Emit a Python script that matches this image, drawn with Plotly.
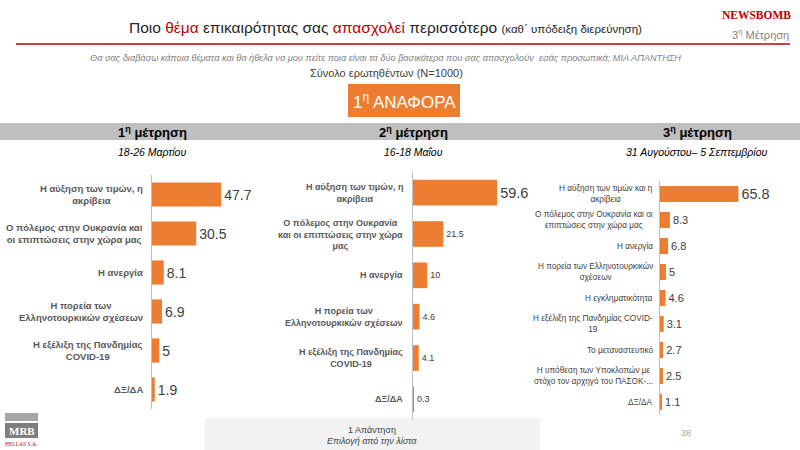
import plotly.graph_objects as go

W, H = 800, 450

# ---------------- data ----------------
cats1 = ["Η αύξηση των τιμών, η<br>ακρίβεια",
         "Ο πόλεμος στην Ουκρανία και<br>οι επιπτώσεις στην χώρα μας",
         "Η ανεργία",
         "Η πορεία των<br>Ελληνοτουρκικών σχέσεων",
         "Η εξέλιξη της Πανδημίας<br>COVID-19",
         "ΔΞ/ΔΑ"]
vals1 = [47.7, 30.5, 8.1, 6.9, 5, 1.9]

cats2 = ["Η αύξηση των τιμών, η<br>ακρίβεια",
         "Ο πόλεμος στην Ουκρανία<br>και οι επιπτώσεις στην χώρα<br>μας",
         "Η ανεργία",
         "Η πορεία των<br>Ελληνοτουρκικών σχέσεων",
         "Η εξέλιξη της Πανδημίας<br>COVID-19",
         "ΔΞ/ΔΑ"]
vals2 = [59.6, 21.5, 10, 4.6, 4.1, 0.3]

cats3 = ["Η αύξηση των τιμών και η<br>ακρίβεια",
         "Ο πόλεμος στην Ουκρανία και οι<br>επιπτώσεις στην χώρα μας",
         "Η ανεργία",
         "Η πορεία των Ελληνοτουρκικών<br>σχέσεων",
         "Η εγκληματικότητα",
         "Η εξέλιξη της Πανδημίας COVID-<br>19",
         "Το μεταναστευτικό",
         "Η υπόθεση των Υποκλοπών με<br>στόχο τον αρχηγό του ΠΑΣΟΚ-...",
         "ΔΞ/ΔΑ"]
vals3 = [65.8, 8.3, 6.8, 5, 4.6, 3.1, 2.7, 2.5, 1.1]

panel_titles = ["1<sup>η</sup> μέτρηση", "2<sup>η</sup> μέτρηση", "3<sup>η</sup> μέτρηση"]
panel_dates = ["18-26 Μαρτίου", "16-18 Μαΐου", "31 Αυγούστου– 5 Σεπτεμβρίου"]

ORANGE = "#ED7D31"
DARK = "#404040"
RED = "#C00000"


def px(x):
    return x / W


def py(y):
    return 1 - y / H


fig = go.Figure()

panels = [
    dict(cats=cats1, vals=vals1, ax=152, xmax=80, wpx=116, top=175, bot=409,
         big=14, small=14, lab_size=9.5, lab_gap=7, lab_bold=True),
    dict(cats=cats2, vals=vals2, ax=413, xmax=85, wpx=120, top=172, bot=420,
         big=14.5, small=9, lab_size=9, lab_gap=8, lab_bold=True),
    dict(cats=cats3, vals=vals3, ax=660, xmax=110, wpx=131, top=181, bot=415,
         big=17, small=11, lab_size=8.2, lab_gap=5, lab_bold=False),
]

annotations = []
layout_axes = {}
for i, p in enumerate(panels, start=1):
    xa = "x" if i == 1 else f"x{i}"
    ya = "y" if i == 1 else f"y{i}"
    sizes = [p["big"]] + [p["small"]] * (len(p["vals"]) - 1)
    fig.add_trace(go.Bar(
        x=p["vals"], y=p["cats"], orientation="h",
        marker=dict(color=ORANGE, line=dict(width=0)),
        width=0.62,
        text=[f"{v:g}" for v in p["vals"]], textposition="outside",
        textfont=dict(size=sizes, color=DARK, family="Liberation Sans"),
        cliponaxis=False, xaxis=xa, yaxis=ya, showlegend=False,
        hoverinfo="skip",
    ))
    xkey = "xaxis" if i == 1 else f"xaxis{i}"
    ykey = "yaxis" if i == 1 else f"yaxis{i}"
    layout_axes[xkey] = dict(domain=[px(p["ax"]), px(p["ax"] + p["wpx"])],
                             range=[0, p["xmax"]], visible=False,
                             anchor=ya, fixedrange=True)
    layout_axes[ykey] = dict(domain=[py(p["bot"]), py(p["top"])],
                             autorange="reversed", showticklabels=False,
                             showline=True, linecolor="#BFBFBF", linewidth=1,
                             ticks="", showgrid=False, zeroline=False,
                             anchor=xa, type="category", fixedrange=True)
    for c in p["cats"]:
        txt = f"<b>{c}</b>" if p["lab_bold"] else c
        annotations.append(dict(
            x=px(p["ax"] - p["lab_gap"]), xref="paper", y=c, yref=ya,
            text=txt, xanchor="right", yanchor="middle", align="center",
            showarrow=False,
            font=dict(size=p["lab_size"], color="#595959" if p["lab_bold"] else DARK,
                      family="Liberation Sans"),
        ))

fig.update_layout(**layout_axes)

shapes = []
shapes.append(dict(type="line", xref="paper", yref="paper",
                   x0=px(16), x1=px(790), y0=py(44), y1=py(44),
                   line=dict(color=RED, width=1.5)))
shapes.append(dict(type="rect", xref="paper", yref="paper",
                   x0=px(348), x1=px(460), y0=py(117), y1=py(84),
                   fillcolor=ORANGE, line=dict(width=0), layer="below"))
shapes.append(dict(type="rect", xref="paper", yref="paper",
                   x0=0, x1=1, y0=py(140), y1=py(123),
                   fillcolor="#BFBFBF", line=dict(width=0), layer="below"))
shapes.append(dict(type="rect", xref="paper", yref="paper",
                   x0=px(205), x1=px(540), y0=0, y1=py(418),
                   fillcolor="#F2F2F2", line=dict(width=0), layer="below"))
shapes.append(dict(type="rect", xref="paper", yref="paper",
                   x0=px(5), x1=px(38), y0=py(421), y1=py(413),
                   fillcolor="#A6A6A6", line=dict(width=0)))
shapes.append(dict(type="rect", xref="paper", yref="paper",
                   x0=px(5), x1=px(38), y0=py(438), y1=py(423),
                   fillcolor="#7F7F7F", line=dict(width=0)))

TITLE_FONT = "Liberation Sans Narrow, Liberation Sans, sans-serif"


def txt(x, y, text, size, color=DARK, family="Liberation Sans", xanchor="center", **kw):
    annotations.append(dict(x=px(x), y=py(y), xref="paper", yref="paper",
                            text=text, showarrow=False, xanchor=xanchor,
                            yanchor="middle",
                            font=dict(size=size, color=color, family=family), **kw))


txt(385, 27,
    "Ποιο <span style='color:#C00000'>θέμα</span> επικαιρότητας σας "
    "<span style='color:#C00000'>απασχολεί</span> περισσότερο "
    "<span style='font-size:11.5px'>(καθ΄ υπόδειξη διερεύνηση)</span>",
    15.5, color="#262626", family=TITLE_FONT)
txt(756, 15, "<b>NEWSBOMB</b>", 11.5, color=RED, family="Liberation Serif")
txt(760, 34, "3<sup>η</sup> Μέτρηση", 11, color="#7F7F7F", family="Liberation Sans")
txt(385, 58,
    "<i>Θα σας διαβάσω κάποια θέματα και θα ήθελα να μου πείτε ποια είναι τα δύο "
    "βασικότερα που σας απασχολούν  εσάς προσωπικά; ΜΙΑ ΑΠΑΝΤΗΣΗ</i>",
    9.2, color="#7F7F7F", family=TITLE_FONT)
txt(386, 73, "Σύνολο ερωτηθέντων (N=1000)", 11, color=DARK, family="Liberation Sans")
txt(404, 101, "1<sup>η</sup> ΑΝΑΦΟΡΑ", 17, color="white", family=TITLE_FONT)

title_x = [152, 413, 697]
for tx, t, d in zip(title_x, panel_titles, panel_dates):
    txt(tx, 132, f"<b>{t}</b>", 13, color="#000000", family="Liberation Sans")
    txt(tx, 152, f"<i>{d}</i>", 10.5, color="#000000", family=TITLE_FONT)

txt(372, 430, "1 Απάντηση", 9, color=DARK, family=TITLE_FONT)
txt(372, 441, "<i>Επιλογή από την λίστα</i>", 9, color=DARK, family=TITLE_FONT)
txt(686, 433, "38", 9, color="#A6A6A6", family="Liberation Sans")
txt(21.5, 431, "<b>MRB</b>", 11, color="white", family="Liberation Serif")
txt(21.5, 444, "HELLAS S.A.", 5.5, color=RED, family="Liberation Serif")

fig.update_layout(
    width=W, height=H, margin=dict(l=0, r=0, t=0, b=0),
    paper_bgcolor="white", plot_bgcolor="white",
    shapes=shapes, annotations=annotations, bargap=0.38,
)

fig.write_html("out.html", config={"displayModeBar": False},
               post_script="document.body.style.margin='0';document.body.style.overflow='hidden';")
